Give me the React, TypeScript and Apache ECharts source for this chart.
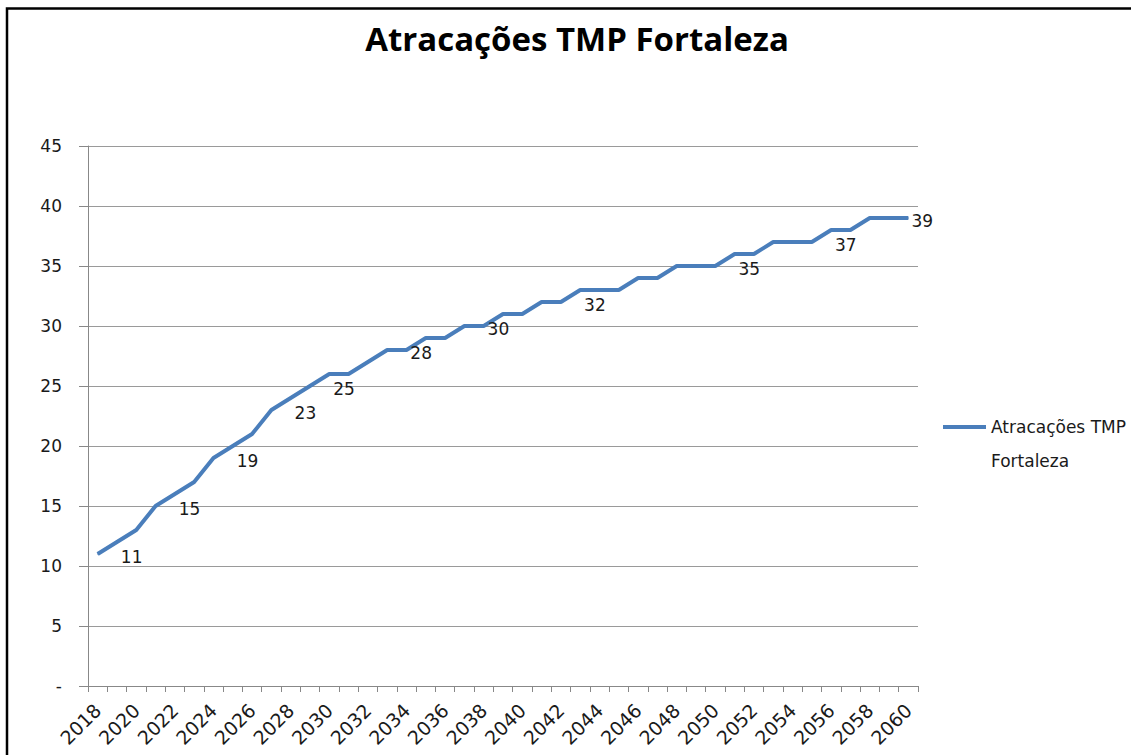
import React, { useEffect, useRef } from "react";
import * as echarts from "echarts";

const years: string[] = [
  "2018","2019","2020","2021","2022","2023","2024","2025","2026","2027",
  "2028","2029","2030","2031","2032","2033","2034","2035","2036","2037",
  "2038","2039","2040","2041","2042","2043","2044","2045","2046","2047",
  "2048","2049","2050","2051","2052","2053","2054","2055","2056","2057",
  "2058","2059","2060",
];
const atracacoes: number[] = [
  11, 12, 13, 15, 16, 17, 19, 20, 21, 23,
  24, 25, 26, 26, 27, 28, 28, 29, 29, 30,
  30, 31, 31, 32, 32, 33, 33, 33, 34, 34,
  35, 35, 35, 36, 36, 37, 37, 37, 38, 38,
  39, 39, 39,
];
const labeledIdx: number[] = [0, 3, 6, 9, 11, 15, 19, 24, 32, 37, 42];
const yTicks: number[] = [0, 5, 10, 15, 20, 25, 30, 35, 40, 45];

const seriesName = "Atracações TMP Fortaleza";
const FONT = "DejaVu Sans";

export default function App() {
  const ref = useRef<HTMLDivElement>(null);
  useEffect(() => {
    if (!ref.current) return;
    const chart = echarts.init(ref.current, undefined, { renderer: "svg" });
    const last = atracacoes.length - 1;
    const data = atracacoes.map((v, i) => {
      if (labeledIdx.indexOf(i) >= 0) {
        return {
          value: v,
          label: {
            show: true,
            position: "inside",
            offset: i === last ? [14, 3] : [34, 3],
          },
        };
      }
      return { value: v };
    });
    chart.setOption({
      animation: false,
      backgroundColor: "#ffffff",
      title: {
        text: "Atracações TMP Fortaleza",
        left: 572,
        textAlign: "center",
        top: 17,
        textStyle: {
          fontFamily: "Open Sans",
          fontWeight: "bold",
          fontSize: 33,
          color: "#000000",
        },
      },
      legend: {
        left: 938,
        top: 371,
        icon: "rect",
        itemWidth: 43,
        itemHeight: 4,
        data: [seriesName],
        formatter: () => " \nAtracações TMP\nFortaleza",
        textStyle: {
          fontFamily: FONT,
          fontSize: 17,
          color: "#1a1a1a",
          lineHeight: 34,
        },
      },
      grid: { left: 88, right: 213, top: 146, bottom: 69, containLabel: false },
      xAxis: {
        type: "category",
        data: years,
        boundaryGap: true,
        axisLine: { lineStyle: { color: "#888888", width: 1 } },
        axisTick: { show: true, interval: 0, length: 6, lineStyle: { color: "#888888" } },
        axisLabel: {
          interval: 1,
          rotate: 45,
          margin: 21,
          fontFamily: FONT,
          fontSize: 19,
          color: "#1a1a1a",
        },
        splitLine: { show: false },
      },
      yAxis: {
        type: "value",
        min: yTicks[0],
        max: yTicks[yTicks.length - 1],
        interval: 5,
        axisLine: { show: true, lineStyle: { color: "#888888", width: 1 } },
        axisTick: { show: true, length: 9, lineStyle: { color: "#888888", width: 1 } },
        axisLabel: {
          margin: 26,
          fontFamily: FONT,
          fontSize: 17,
          color: "#1a1a1a",
          formatter: (v: number) => (v === 0 ? "-" : String(v)),
        },
        splitLine: { show: true, lineStyle: { color: "#9a9a9a", width: 1 } },
      },
      series: [
        {
          name: seriesName,
          type: "line",
          data,
          showSymbol: true,
          symbol: "circle",
          symbolSize: 1,
          itemStyle: { color: "#4a7ebb" },
          lineStyle: { color: "#4a7ebb", width: 4 },
          label: {
            show: false,
            fontFamily: FONT,
            fontSize: 17,
            color: "#1a1a1a",
          },
        },
      ],
      graphic: [
        {
          type: "rect",
          shape: { x: 7, y: 8.5, width: 1200, height: 800 },
          style: { fill: "none", stroke: "#000000", lineWidth: 2.5 },
          silent: true,
        },
      ],
    });
    return () => chart.dispose();
  }, []);
  return (
    <div
      ref={ref}
      style={{ position: "fixed", left: 0, top: 0, width: 1131, height: 755 }}
    />
  );
}
